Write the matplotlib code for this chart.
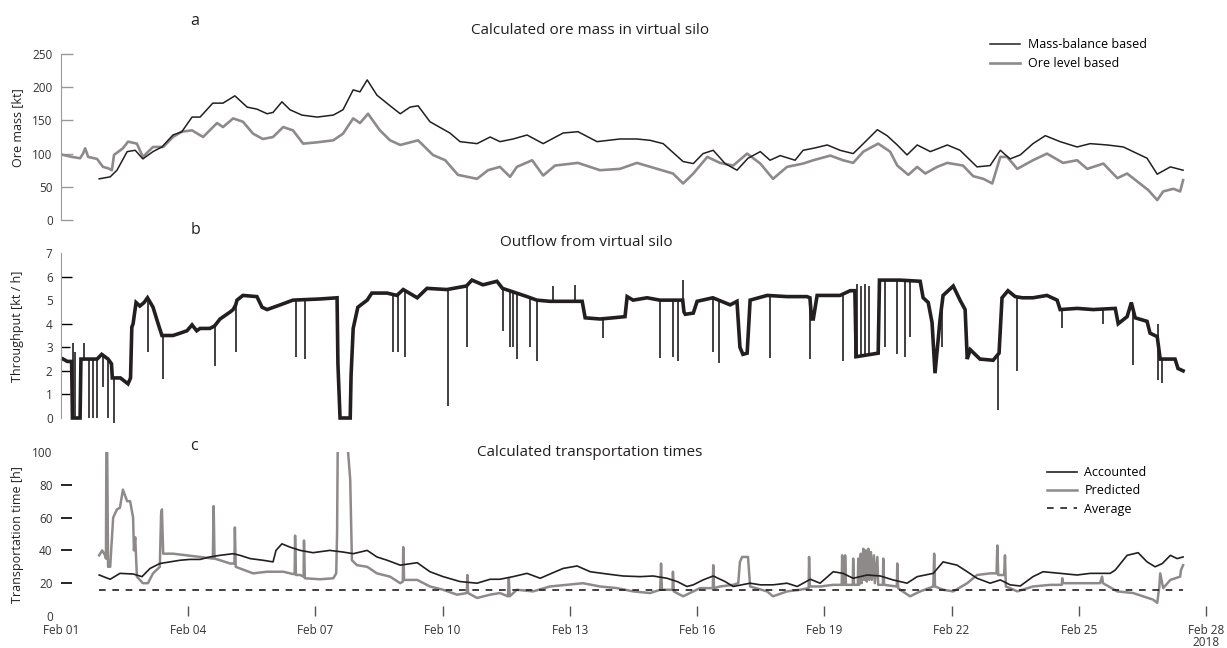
import numpy as np
import pandas as pd
import matplotlib
matplotlib.use('Agg')
import matplotlib.pyplot as plt
import matplotlib.dates as mdates

plt.rcParams['font.family'] = ['Open Sans', 'DejaVu Sans']

W_PX, H_PX = 1227, 648
start = pd.Timestamp('2018-02-01')

# all times are in days after Feb 01 00:00

# (a) ore mass in the virtual silo [kt]
mass_day = [0.90, 1.16, 1.32, 1.56, 1.75, 1.93, 2.17, 2.38, 2.64, 2.85,
            3.09, 3.28, 3.58, 3.82, 4.10, 4.39, 4.62, 4.86, 5.00, 5.21,
            5.40, 5.68, 6.04, 6.42, 6.65, 6.89, 7.05, 7.22, 7.45, 7.76,
            8.00, 8.23, 8.42, 8.70, 9.17, 9.41, 9.81, 10.12, 10.35, 10.66,
            10.99, 11.37, 11.84, 12.19, 12.64, 13.18, 13.58, 13.89, 14.20, 14.67,
            14.91, 15.14, 15.38, 15.66, 15.94, 16.20, 16.49, 16.72, 16.96, 17.31,
            17.50, 17.74, 18.07, 18.37, 18.68, 18.92, 19.25, 19.48, 19.72, 19.95,
            20.19, 20.50, 20.90, 21.20, 21.60, 21.91, 22.15, 22.38, 22.62, 22.92,
            23.21, 23.56, 23.96, 24.27, 24.67, 25.05, 25.38, 25.61, 25.85, 26.16,
            26.46]
mass_kt = [62, 65, 75, 103, 105, 92, 103, 110, 128, 133,
           155, 155, 176, 176, 187, 170, 167, 160, 162, 178,
           166, 158, 155, 158, 166, 196, 193, 211, 188, 172,
           160, 170, 172, 148, 131, 118, 115, 125, 118, 122,
           128, 115, 131, 133, 118, 122, 122, 120, 115, 88,
           85, 100, 105, 85, 75, 93, 103, 90, 97, 90,
           105, 108, 113, 105, 100, 115, 136, 127, 113, 98,
           113, 103, 113, 105, 80, 82, 105, 92, 98, 115,
           127, 118, 110, 115, 113, 110, 100, 93, 69, 80,
           75]

level_day = [0.05, 0.26, 0.45, 0.52, 0.57, 0.64, 0.85, 0.99, 1.11, 1.20,
             1.25, 1.46, 1.58, 1.79, 1.93, 2.17, 2.41, 2.64, 2.85, 3.09,
             3.35, 3.68, 3.82, 4.06, 4.29, 4.53, 4.76, 5.00, 5.24, 5.47,
             5.71, 6.04, 6.42, 6.65, 6.89, 7.05, 7.24, 7.52, 7.76, 8.00,
             8.42, 8.77, 9.06, 9.36, 9.81, 10.07, 10.35, 10.59, 10.75, 11.11,
             11.37, 11.65, 12.19, 12.71, 13.18, 13.58, 14.06, 14.43, 14.67, 14.91,
             15.24, 15.54, 15.85, 16.18, 16.49, 16.79, 17.12, 17.50, 17.74, 18.14,
             18.44, 18.68, 18.92, 19.27, 19.55, 19.72, 19.98, 20.19, 20.38, 20.66,
             20.90, 21.27, 21.51, 21.75, 21.96, 22.15, 22.31, 22.55, 22.92, 23.25,
             23.63, 23.96, 24.20, 24.58, 24.91, 25.14, 25.38, 25.64, 25.85, 25.99,
             26.23, 26.39, 26.46]
level_kt = [98, 95, 93, 100, 108, 95, 92, 80, 78, 75,
            98, 108, 118, 115, 95, 110, 110, 125, 133, 135,
            125, 146, 140, 153, 148, 130, 122, 125, 140, 135,
            115, 117, 120, 130, 153, 146, 160, 135, 120, 113,
            120, 98, 90, 68, 62, 75, 80, 65, 80, 90,
            67, 82, 86, 75, 77, 86, 77, 70, 55, 70,
            95, 86, 82, 100, 85, 62, 80, 85, 90, 97,
            90, 86, 103, 115, 103, 82, 68, 80, 70, 80,
            86, 82, 66, 62, 55, 95, 95, 77, 90, 100,
            86, 90, 77, 85, 63, 70, 58, 45, 30, 43,
            47, 43, 60]

# (b) outflow from the virtual silo [kt/h]: running level ...
flow_day = [0.05, 0.15, 0.25, 0.27, 0.45, 0.47, 0.56, 0.64, 0.74, 0.85,
            0.96, 1.11, 1.19, 1.21, 1.40, 1.58, 1.64, 1.67, 1.70, 1.77,
            1.86, 1.96, 2.04, 2.17, 2.29, 2.38, 2.50, 2.64, 2.81, 2.97,
            3.09, 3.20, 3.28, 3.51, 3.62, 3.75, 3.99, 4.06, 4.12, 4.15,
            4.29, 4.62, 4.74, 4.86, 5.17, 5.47, 6.11, 6.51, 6.53, 6.58,
            6.82, 6.84, 6.89, 7.00, 7.22, 7.33, 7.69, 7.92, 8.07, 8.40,
            8.63, 9.10, 9.56, 9.69, 9.95, 10.28, 10.41, 10.74, 10.99, 11.22,
            11.53, 11.93, 12.29, 12.36, 12.71, 13.02, 13.30, 13.35, 13.49, 13.82,
            14.12, 14.66, 14.69, 14.72, 14.91, 15.00, 15.37, 15.78, 15.94, 16.01,
            16.08, 16.18, 16.25, 16.65, 17.12, 17.59, 17.66, 17.70, 17.74, 17.83,
            18.37, 18.61, 18.72, 18.75, 19.27, 19.30, 19.79, 20.26, 20.33, 20.45,
            20.54, 20.61, 20.73, 20.80, 21.04, 21.20, 21.32, 21.37, 21.44, 21.67,
            21.98, 22.12, 22.19, 22.33, 22.50, 22.67, 22.92, 23.25, 23.49, 23.56,
            23.96, 24.34, 24.86, 24.93, 25.14, 25.24, 25.33, 25.61, 25.68, 25.85,
            25.92, 26.08, 26.27, 26.34, 26.46]
flow_kth = [2.5, 2.4, 2.4, 0.0, 0.0, 2.5, 2.5, 2.5, 2.5, 2.5,
            2.7, 2.5, 2.3, 1.7, 1.7, 1.45, 1.7, 3.85, 4.0, 4.9,
            4.75, 4.9, 5.1, 4.7, 4.0, 3.5, 3.5, 3.5, 3.6, 3.7,
            3.95, 3.7, 3.8, 3.8, 3.9, 4.2, 4.5, 4.6, 4.8, 5.0,
            5.2, 5.15, 4.7, 4.6, 4.8, 5.0, 5.05, 5.1, 2.3, 0.0,
            0.0, 1.8, 3.8, 4.7, 5.0, 5.3, 5.3, 5.2, 5.45, 5.1,
            5.5, 5.45, 5.6, 5.85, 5.65, 5.8, 5.5, 5.3, 5.15, 5.0,
            4.95, 4.95, 4.95, 4.25, 4.2, 4.25, 4.3, 5.15, 5.0, 5.1,
            5.0, 5.0, 4.5, 4.4, 4.45, 4.95, 5.1, 4.8, 4.95, 3.0,
            2.7, 2.75, 5.0, 5.2, 5.15, 5.15, 5.1, 4.2, 4.2, 5.2,
            5.2, 5.4, 5.4, 2.6, 2.75, 5.85, 5.85, 5.8, 5.1, 4.9,
            4.05, 1.9, 4.2, 5.2, 5.6, 5.0, 4.6, 2.5, 2.9, 2.5,
            2.45, 2.75, 5.1, 5.4, 5.15, 5.1, 5.1, 5.2, 5.0, 4.6,
            4.65, 4.6, 4.65, 4.0, 4.3, 4.9, 4.25, 4.1, 3.6, 3.45,
            2.5, 2.5, 2.5, 2.1, 2.0]

# ... and the short stops / surges on top of it
spike_day = [0.29, 0.32, 0.54, 0.65, 0.75, 0.86, 1.00, 1.12, 1.25, 2.05,
             2.41, 3.63, 4.13, 5.54, 5.75, 7.83, 7.95, 8.11, 9.13, 9.57,
             10.42, 10.59, 10.66, 10.75, 11.06, 11.23, 11.60, 12.12, 12.78, 14.13,
             14.43, 14.55, 14.67, 15.38, 15.52, 16.72, 17.67, 18.44, 18.73, 18.78,
             18.86, 18.95, 19.05, 19.43, 19.72, 19.90, 20.02, 20.78, 22.10, 22.55,
             23.61, 24.58, 25.28, 25.86, 25.87, 25.97]
spike_kth = [3.2, 2.8, 3.2, 0.0, 0.0, 0.0, 1.3, 0.0, -0.2, 2.8,
             1.65, 2.2, 2.8, 2.6, 2.5, 2.8, 2.8, 2.6, 0.5, 3.0,
             3.7, 3.0, 3.0, 2.5, 3.0, 2.4, 5.6, 5.65, 3.4, 2.55,
             2.6, 2.4, 5.85, 2.8, 2.35, 2.55, 2.5, 2.4, 2.55, 5.7,
             5.6, 5.7, 5.6, 3.0, 2.7, 2.6, 3.45, 3.0, 0.35, 2.0,
             3.8, 4.0, 2.25, 1.6, 4.0, 1.5]

# (c) transportation times [h]
acc_day = [0.90, 1.16, 1.39, 1.70, 1.91, 2.10, 2.33, 2.57, 2.81, 3.04,
           3.28, 3.51, 3.75, 4.06, 4.22, 4.46, 4.76, 5.00, 5.07, 5.21,
           5.40, 5.64, 5.94, 6.34, 6.65, 6.89, 7.22, 7.45, 7.69, 8.00,
           8.40, 8.70, 9.01, 9.41, 9.81, 10.12, 10.35, 10.66, 10.99, 11.30,
           11.53, 11.84, 12.17, 12.48, 12.88, 13.25, 13.66, 13.96, 14.29, 14.53,
           14.76, 14.91, 15.14, 15.38, 15.66, 15.85, 16.25, 16.49, 16.79, 17.12,
           17.36, 17.67, 17.90, 18.21, 18.44, 18.68, 19.01, 19.32, 19.62, 19.95,
           20.19, 20.57, 20.80, 21.13, 21.37, 21.60, 21.91, 22.15, 22.38, 22.62,
           22.92, 23.16, 23.56, 23.96, 24.27, 24.74, 24.86, 25.14, 25.40, 25.61,
           25.80, 25.97, 26.16, 26.32, 26.46]
acc_h = [25, 22.4, 26, 25.6, 24, 29, 32, 33, 34, 34.5,
         34.5, 36, 37, 38, 37, 35, 34, 33, 40, 44,
         42, 40, 38.6, 40, 39, 38, 40, 36, 34, 31,
         32.5, 27, 24, 21, 20, 22.4, 22.4, 24, 26, 23,
         25.6, 29, 30.5, 27, 25.6, 24.4, 24, 24.4, 23, 21,
         18, 19, 22, 24.4, 21, 18, 20, 19, 19, 20,
         18, 22.4, 20, 27, 26, 23, 25, 24.4, 22, 20,
         24, 26, 33, 31, 27, 23, 20, 22, 19, 18.3,
         24, 27, 26, 25, 26, 26, 28, 37, 38.6, 33,
         30, 32, 37, 35, 36]

pred_day = [0.90, 0.97, 1.04, 1.06, 1.07, 1.09, 1.11, 1.16, 1.23, 1.32,
            1.39, 1.46, 1.56, 1.63, 1.70, 1.72, 1.75, 1.79, 1.93, 2.05,
            2.17, 2.33, 2.36, 2.38, 2.41, 2.64, 2.97, 3.28, 3.58, 3.60,
            3.62, 3.75, 3.99, 4.09, 4.10, 4.12, 4.22, 4.53, 4.86, 5.24,
            5.47, 5.51, 5.52, 5.54, 5.64, 5.72, 5.73, 5.75, 6.11, 6.42,
            6.49, 6.51, 6.53, 6.76, 6.77, 6.82, 6.86, 6.98, 7.22, 7.45,
            7.76, 8.00, 8.06, 8.07, 8.09, 8.40, 8.70, 9.01, 9.34, 9.57,
            9.58, 9.60, 9.81, 10.12, 10.35, 10.54, 10.56, 10.58, 10.75, 11.13,
            11.53, 11.93, 12.31, 12.71, 13.11, 13.49, 13.89, 14.13, 14.15, 14.17,
            14.42, 14.43, 14.45, 14.67, 14.91, 15.07, 15.37, 15.38, 15.40, 15.54,
            15.85, 15.97, 16.01, 16.06, 16.20, 16.25, 16.65, 16.79, 17.12, 17.43,
            17.63, 17.64, 17.66, 17.90, 18.21, 18.41, 18.42, 18.44, 18.48, 18.49,
            18.51, 18.67, 18.68, 18.70, 18.79, 18.80, 18.82, 18.86, 18.88, 18.92,
            18.94, 18.98, 19.00, 19.04, 19.06, 19.10, 19.12, 19.17, 19.19, 19.25,
            19.27, 19.38, 19.39, 19.41, 19.71, 19.72, 19.74, 19.79, 20.02, 20.26,
            20.57, 20.59, 20.61, 20.80, 21.04, 21.37, 21.60, 21.91, 22.06, 22.08,
            22.10, 22.24, 22.26, 22.28, 22.38, 22.55, 22.92, 23.33, 23.60, 23.61,
            23.63, 24.10, 24.50, 24.55, 24.57, 24.91, 25.28, 25.75, 25.85, 25.90,
            25.92, 25.99, 26.16, 26.39, 26.41, 26.46]
pred_h = [37, 40, 37, 35, 100, 100, 30, 30, 60, 65,
          66, 77, 70, 70, 60, 40, 48, 24, 20, 20,
          26, 30, 62, 65, 38, 38, 37, 36, 35, 67,
          35, 34, 32, 32, 54, 30, 29, 26, 27, 27,
          25.6, 25.6, 49, 25, 25, 24, 46, 23, 22.4, 23,
          26, 50, 120, 120, 100, 83, 34, 31, 30, 26,
          24, 20, 21, 42, 22, 22, 18, 16, 13, 14,
          25, 14, 11, 13, 14, 12, 23, 12, 16, 15,
          18, 19, 20, 18, 17, 15, 14, 16, 32, 16,
          16, 27, 15, 12, 15, 17, 17, 31, 17, 18,
          19, 20, 33, 36, 36, 18, 15, 12, 15, 16,
          17, 36, 18, 18, 19, 19, 37, 19, 19, 37,
          19, 19, 35, 19, 19, 35, 19, 38, 20, 41,
          22, 40, 21, 41, 22, 39, 22, 37, 20, 36,
          19, 19, 35, 19, 18, 32, 17, 16, 12, 15,
          18, 38, 18, 16, 15, 20, 25, 26, 26, 43,
          25, 25, 37, 18, 17, 15, 18, 19, 19, 23,
          20, 20, 20, 24, 20, 15, 14, 10, 8, 18,
          26, 17, 22, 24, 28, 31]

avg_h = 16
avg_span = [0.90, 26.46]

tick_day = [0, 3, 6, 9, 12, 15, 18, 21, 24, 27]


def days(d):
    return start + pd.to_timedelta(np.asarray(d, dtype=float), unit='D')


def fig_xy(x, y):
    # pixel position (from the top-left corner) -> figure fraction
    return x / W_PX, 1 - y / H_PX


DARK = '#231f20'
GREY = '#8f8a8a'
TXT = '#333333'

fig = plt.figure(figsize=(W_PX / 100, H_PX / 100), dpi=100)
left, width = 61 / W_PX, 1145 / W_PX
ax_a = fig.add_axes([left, 1 - 220 / H_PX, width, 166 / H_PX])
ax_b = fig.add_axes([left, 1 - 418 / H_PX, width, 165 / H_PX])
ax_c = fig.add_axes([left, 1 - 616 / H_PX, width, 164 / H_PX])

for ax in (ax_a, ax_b, ax_c):
    ax.set_xlim(days([0, 27]))
    for side in ('top', 'right', 'bottom'):
        ax.spines[side].set_visible(False)
    ax.spines['left'].set_color('#9a9a9a')
    ax.tick_params(axis='y', direction='in', labelsize=8.5, labelcolor=TXT,
                   pad=6, width=1)
    ax.patch.set_alpha(0)

for ax in (ax_a, ax_b):
    ax.tick_params(axis='x', bottom=False, labelbottom=False)

# a
l_level, = ax_a.plot(days(level_day), level_kt, color=GREY, lw=1.9,
                     label='Ore level based', zorder=2)
l_mass, = ax_a.plot(days(mass_day), mass_kt, color=DARK, lw=1.1,
                    label='Mass-balance based', zorder=3)
ax_a.set_ylim(0, 250)
ax_a.set_yticks(range(0, 251, 50))
ax_a.tick_params(axis='y', length=8.5, color='#9a9a9a')
ax_a.legend(handles=[l_mass, l_level], loc='upper left',
            bbox_to_anchor=fig_xy(990, 38), bbox_transform=fig.transFigure,
            frameon=False, fontsize=9, handlelength=2.4, handletextpad=0.6,
            labelspacing=0.5, borderpad=0, borderaxespad=0)

# b: thick running level, thin vertical strokes for stops and surges
ax_b.plot(days(flow_day), flow_kth, color=DARK, lw=2.6, clip_on=False,
          solid_joinstyle='miter')
spike_base = np.interp(spike_day, flow_day, flow_kth)
ax_b.vlines(days(spike_day), spike_kth, spike_base, color=DARK, lw=1.2,
            clip_on=False)
ax_b.set_ylim(0, 7)
ax_b.set_yticks(range(0, 8))
b_tick_style = {0: None, 1: ('#555555', 6.5), 2: ('#555555', 6.5),
                3: ('#555555', 6.5), 4: ('#c4c4c4', 8), 5: None,
                6: ('#c4c4c4', 8), 7: None}
for val, tick in zip(range(0, 8), ax_b.yaxis.get_major_ticks()):
    style = b_tick_style[val]
    if style is None:
        tick.tick1line.set_visible(False)
    else:
        tick.tick1line.set_color(style[0])
        tick.tick1line.set_markersize(style[1])

# c
ax_c.spines['left'].set_visible(False)
l_pred, = ax_c.plot(days(pred_day), pred_h, color=GREY, lw=1.8,
                    label='Predicted', zorder=2)
l_acc, = ax_c.plot(days(acc_day), acc_h, color=DARK, lw=1.2,
                   label='Accounted', zorder=3)
l_avg, = ax_c.plot(days(avg_span), [avg_h, avg_h], color=DARK, lw=1.2,
                   ls=(0, (4, 4)), label='Average', zorder=3)
ax_c.set_ylim(0, 100)
ax_c.set_yticks(range(0, 101, 20))
c_tick_style = {0: None, 20: '#3a3a3a', 40: '#cfcfcf', 60: '#777777',
                80: '#3a3a3a', 100: None}
for val, tick in zip(range(0, 101, 20), ax_c.yaxis.get_major_ticks()):
    col = c_tick_style[val]
    if col is None:
        tick.tick1line.set_visible(False)
    else:
        tick.tick1line.set_color(col)
        tick.tick1line.set_markersize(8)
        tick.tick1line.set_markeredgewidth(1.2)

ax_c.set_xticks(days(tick_day))
ax_c.xaxis.set_major_formatter(mdates.DateFormatter('%b %d'))
ax_c.tick_params(axis='x', direction='in', length=7, width=1, color='#555555',
                 labelsize=8.5, labelcolor=TXT, pad=6)
ax_c.xaxis.get_major_ticks()[0].tick1line.set_visible(False)
ax_c.legend(handles=[l_acc, l_pred, l_avg], loc='upper left',
            bbox_to_anchor=fig_xy(1047, 466), bbox_transform=fig.transFigure,
            frameon=False, fontsize=9, handlelength=2.4, handletextpad=0.6,
            labelspacing=0.42, borderpad=0, borderaxespad=0)

fig.text(*fig_xy(1206, 643), '2018', ha='center', va='center',
         fontsize=8.5, color=TXT)

# panel letters and titles
for letter, xy in (('a', (195, 21)), ('b', (195, 230)), ('c', (194, 446))):
    fig.text(*fig_xy(*xy), letter, ha='center', va='center', fontsize=11.5,
             color=DARK)
for title, xy in (('Calculated ore mass in virtual silo', (590, 30)),
                  ('Outflow from virtual silo', (586, 242)),
                  ('Calculated transportation times', (590, 453))):
    fig.text(*fig_xy(*xy), title, ha='center', va='center', fontsize=11,
             color=DARK)

for label, xy in (('Ore mass [kt]', (18, 128)),
                  ('Throughput [kt / h]', (18, 326)),
                  ('Transportation time [h]', (18, 535))):
    fig.text(*fig_xy(*xy), label, ha='center', va='center', rotation=90,
             fontsize=9, color=DARK)

fig.savefig('out.png', dpi=100)
